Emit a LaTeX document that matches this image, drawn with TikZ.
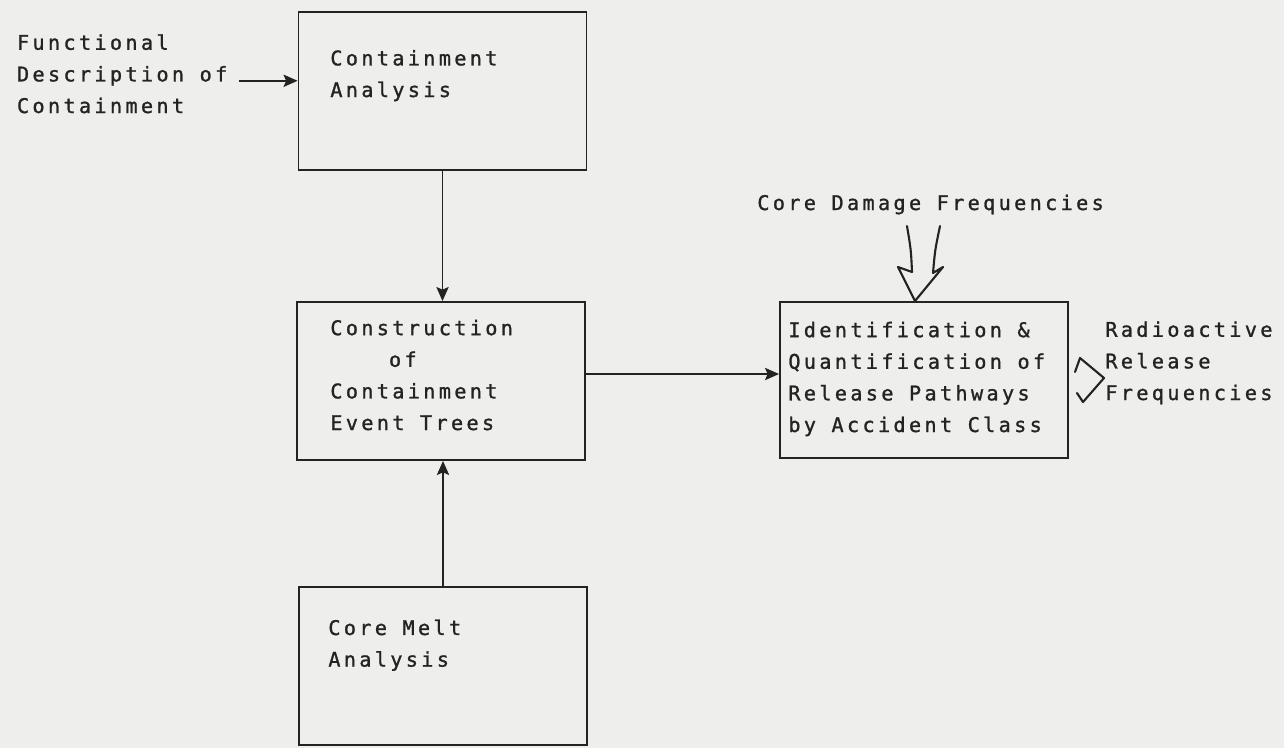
\documentclass[tikz,border=0pt]{standalone}
\usepackage{fontspec}
\usepackage{xcolor}
\usetikzlibrary{positioning, calc}
\usetikzlibrary{arrows.meta}

\newfontfamily\typewr[LetterSpace=16.5, FakeBold=1.2]{DejaVu Sans Mono}
\definecolor{paper}{RGB}{238,238,236}
\definecolor{ink}{RGB}{35,35,35}

\tikzset{
  box/.style={draw=ink, line width=1.1pt, minimum width=5.76cm, minimum height=3.16cm, inner sep=0pt},
  lbl/.style={text=ink, inner sep=0pt, align=left, anchor=base west, font=\typewr\fontsize{11.5}{18}\selectfont},
  conn/.style={draw=ink, line width=0.9pt, -{Stealth[length=8pt, width=7pt, inset=1.5pt]}},
  hollow/.style={draw=ink, line width=1.2pt, line join=round, line cap=round}
}

\begin{document}
\begin{tikzpicture}[x=0.02cm, y=-0.02cm]
        \fill[paper] (0,0) rectangle (1284,748);

        % boxes
        \node[box] (ca) at (442.5,91) {};
        \node[box] (cb) at (441,381) {};
        \node[box] (cc) at (443,666) {};
        \node[box, minimum height=3.12cm] (cd) at (924,380) {};

        % texts (placed at the baseline of their last line)
        \node[lbl, outer xsep=0.24cm] (fdesc) at (5,113) {Functional\\Description of\\Containment};
        \node[lbl] (catxt) at (330,97) {Containment\\Analysis};
        \node[lbl] (cbtxt) at (330,430) {Construction\\\phantom{Cons}of\\Containment\\Event Trees};
        \node[lbl] (cctxt) at (328,666.6) {Core Melt\\Analysis};
        \node[lbl] (cdtxt) at (788,432) {Identification \&\\Quantification of\\Release Pathways\\by Accident Class};
        \node[lbl] (cdf) at (757,210) {Core Damage Frequencies};
        \node[lbl] (rrf) at (1105,400) {Radioactive\\Release\\Frequencies};

        % connectors
        \coordinate (fout) at ($(fdesc.east)+(0,7)$);
        \coordinate (bout) at ($(cb.east)+(0,-7)$);
        \draw[conn] (fout) -- (ca.west |- fout);
        \draw[conn] (ca.south) -- (cb.north -| ca.south);
        \draw[conn] (cc.north) -- (cb.south -| cc.north);
        \draw[conn] (bout) -- (cd.west |- bout);

        % hollow arrows
        \coordinate (dtip) at (915,301);
        \draw[hollow] (907,226) .. controls (911,250) .. (912,272) -- (898,267) -- (dtip)
            -- (943,267) -- (933,273) .. controls (935,250) .. (940,226);
        \coordinate (rtip) at (1104,378);
        \draw[hollow] (1075,372) -- (1080,358) -- (rtip) -- (1083,402) -- (1077,393);
    \end{tikzpicture}
\end{document}
